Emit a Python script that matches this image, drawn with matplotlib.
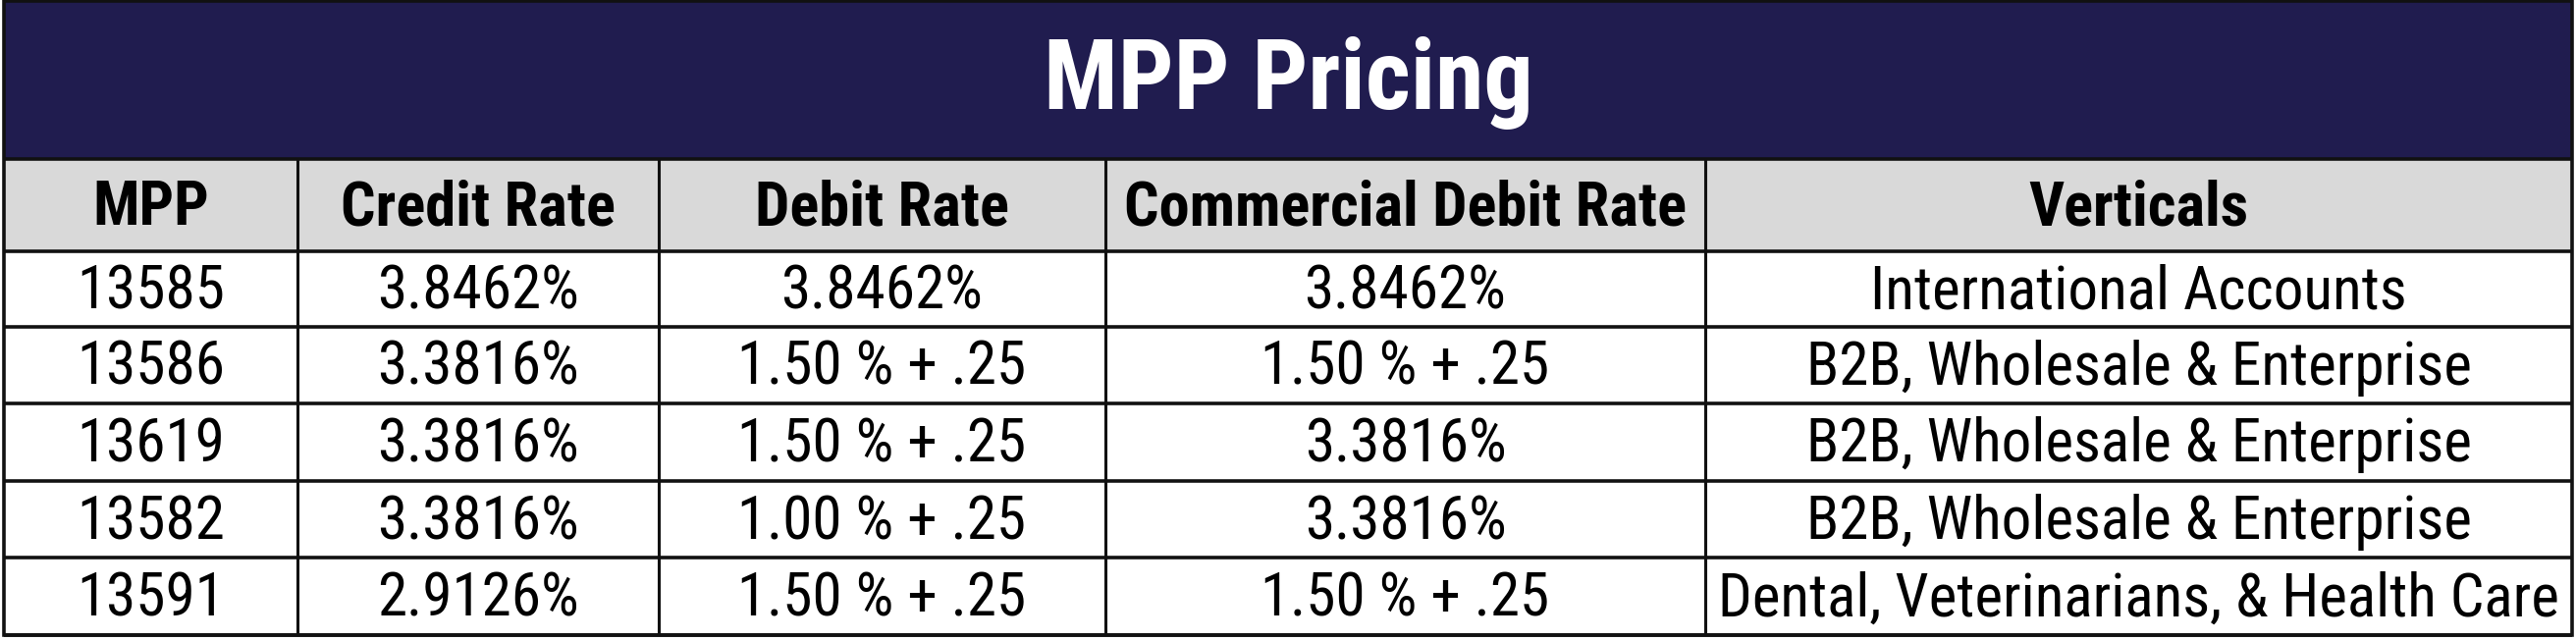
import matplotlib
matplotlib.use("Agg")
import matplotlib.pyplot as plt
from matplotlib.patches import Rectangle
from matplotlib import font_manager

title = "MPP Pricing"
columns = ["MPP", "Credit Rate", "Debit Rate", "Commercial Debit Rate", "Verticals"]
mpp = ["13585", "13586", "13619", "13582", "13591"]
credit_rate = ["3.8462%", "3.3816%", "3.3816%", "3.3816%", "2.9126%"]
debit_rate = ["3.8462%", "1.50 % + .25", "1.50 % + .25", "1.00 % + .25", "1.50 % + .25"]
commercial_debit_rate = ["3.8462%", "1.50 % + .25", "3.3816%", "3.3816%", "1.50 % + .25"]
verticals = ["International Accounts", "B2B, Wholesale & Enterprise",
             "B2B, Wholesale & Enterprise", "B2B, Wholesale & Enterprise",
             "Dental, Veterinarians, & Health Care"]

W, H = 2624, 652
col_edges = [4, 303, 671, 1126, 1737, 2620]
row_edges = [1, 162, 256, 333, 411, 490, 568, 647]

names = {f.name for f in font_manager.fontManager.ttflist}
fam = "Roboto Condensed"
for cand in ["Aptos Narrow", "Roboto Condensed", "Archivo Narrow", "Liberation Sans"]:
    if cand in names:
        fam = cand
        break

NAVY = "#201C4F"
GRAY = "#D9D9D9"
LINE = "#111111"

fig = plt.figure(figsize=(W / 100, H / 100), dpi=100)
ax = fig.add_axes([0, 0, 1, 1])
ax.set_xlim(0, W)
ax.set_ylim(H, 0)
ax.axis("off")

x0, x1 = col_edges[0], col_edges[-1]
# title band
ax.add_patch(Rectangle((x0, row_edges[0]), x1 - x0, row_edges[1] - row_edges[0],
                       facecolor=NAVY, edgecolor="none"))
ax.text((x0 + x1) / 2, (row_edges[0] + row_edges[1]) / 2 + 3, title, color="white",
        fontsize=72, fontweight="bold", family=fam, ha="center", va="center")
# header band
ax.add_patch(Rectangle((x0, row_edges[1]), x1 - x0, row_edges[2] - row_edges[1],
                       facecolor=GRAY, edgecolor="none"))
for i, c in enumerate(columns):
    cx = (col_edges[i] + col_edges[i + 1]) / 2
    ax.text(cx, (row_edges[1] + row_edges[2]) / 2 + 3, c, fontsize=45, fontweight="bold",
            family=fam, ha="center", va="center", color="black")

table = [mpp, credit_rate, debit_rate, commercial_debit_rate, verticals]
for r in range(len(mpp)):
    cy = (row_edges[r + 2] + row_edges[r + 3]) / 2 + 3
    for c in range(len(columns)):
        cx = (col_edges[c] + col_edges[c + 1]) / 2
        ax.text(cx, cy, table[c][r], fontsize=44, family=fam, ha="center", va="center",
                color="black")

# grid lines
for y in row_edges[1:]:
    ax.plot([x0, x1], [y, y], color=LINE, lw=2.6, solid_capstyle="butt")
for x in col_edges[1:-1]:
    ax.plot([x, x], [row_edges[1], row_edges[-1]], color=LINE, lw=2.2, solid_capstyle="butt")
# outer border
ax.add_patch(Rectangle((x0, row_edges[0]), x1 - x0, row_edges[-1] - row_edges[0],
                       facecolor="none", edgecolor=LINE, lw=2.6))

fig.savefig("out.png", dpi=100, facecolor="white")
